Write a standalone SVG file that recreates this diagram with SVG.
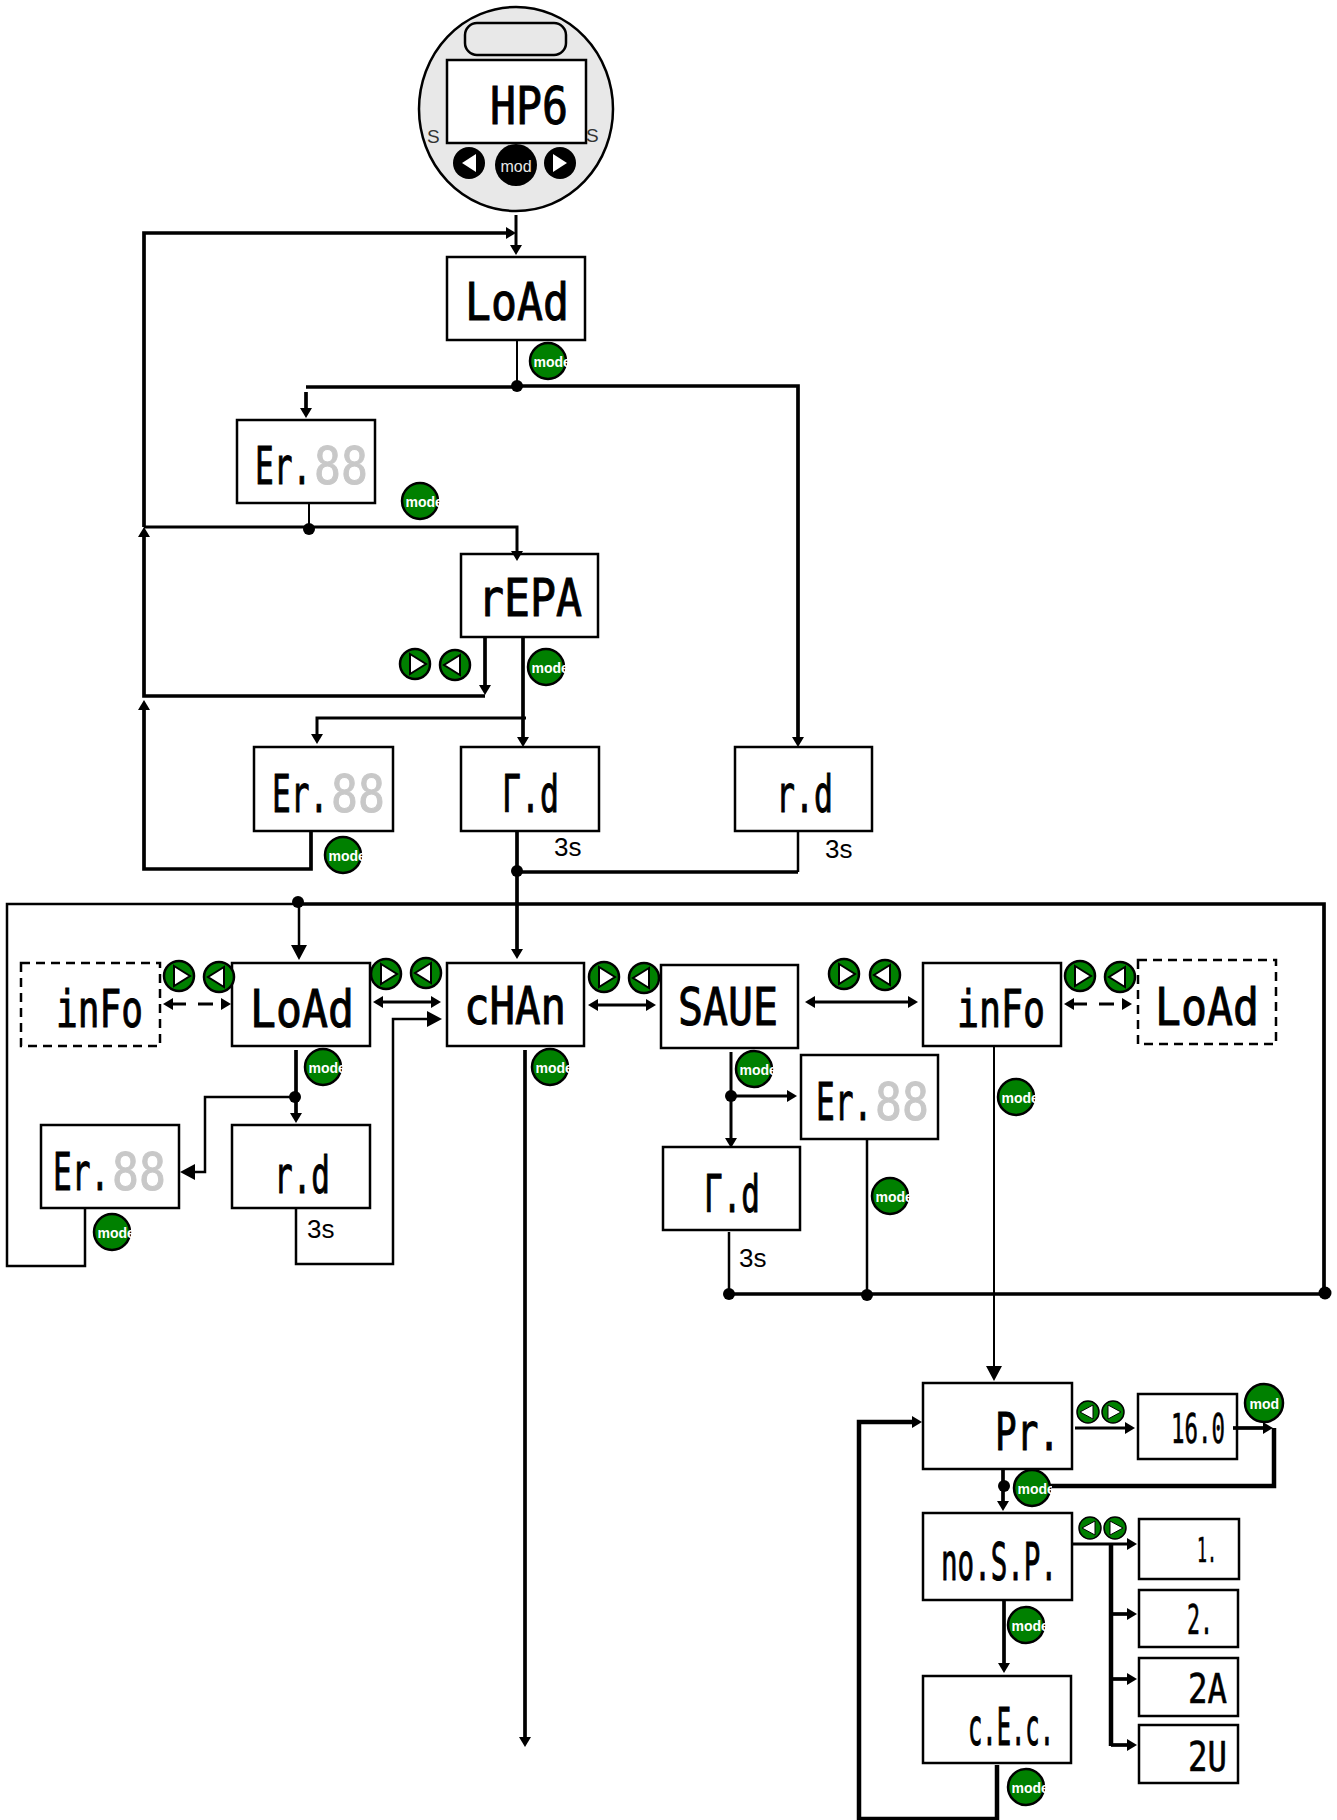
<svg xmlns="http://www.w3.org/2000/svg" width="1337" height="1820" viewBox="0 0 1337 1820">
<style>
.box{fill:#fff;stroke:#000;stroke-width:2.5}
.dash{fill:#fff;stroke:#000;stroke-width:2.5;stroke-dasharray:9 6}
.seg{font-family:"DejaVu Sans Mono","Liberation Mono",monospace;font-size:52px;fill:#000;stroke:#000;stroke-width:1}
.s40{font-size:40px;stroke-width:.6}
.s32{font-size:34px;stroke-width:.6}
.off{fill:#c8c8c8;stroke:#c8c8c8}
.lbl{font-family:"Liberation Sans",Arial,sans-serif;font-size:26px;fill:#000}
.badge circle{fill:#008000;stroke:#000;stroke-width:2.5}
.badge text{font-family:"Liberation Sans",Arial,sans-serif;font-size:14px;font-weight:bold;fill:#fff}
.btn{fill:#008000;stroke:#000;stroke-width:2.5}
.tri{fill:#fff;stroke:#000;stroke-width:2}
.tri2{fill:#fff;stroke:#000;stroke-width:1}
.c{fill:none;stroke:#000;stroke-linejoin:miter}
.w2{stroke-width:2}.w25{stroke-width:2.5}.w3{stroke-width:3}.w35{stroke-width:3.7}.w4{stroke-width:4.5}
.d{stroke-dasharray:15 12}
.j{fill:#000}
.a{marker-end:url(#s)}
.al{marker-end:url(#l)}
.aa{marker-start:url(#s);marker-end:url(#s)}
</style>
<defs>
<marker id="s" markerUnits="userSpaceOnUse" markerWidth="10" markerHeight="12" refX="2" refY="6" orient="auto-start-reverse"><path d="M0,0L10,6L0,12Z"/></marker>
<marker id="l" markerUnits="userSpaceOnUse" markerWidth="15" markerHeight="16" refX="3" refY="8" orient="auto-start-reverse"><path d="M0,0L15,8L0,16Z"/></marker>
<clipPath id="cl"><rect x="-20" y="-21" width="40" height="42"/></clipPath>
<g id="br"><circle class="btn" r="15"/><polygon class="tri" points="-5,-10 11,0 -5,10"/></g>
<g id="bl"><circle class="btn" r="15"/><polygon class="tri" points="5,-10 -11,0 5,10"/></g>
<g id="sr"><circle class="btn" style="stroke-width:1.5" r="11"/><polygon class="tri2" points="-5,-7 8,0 -5,7"/></g>
<g id="sl"><circle class="btn" style="stroke-width:1.5" r="11"/><polygon class="tri2" points="5,-7 -8,0 5,7"/></g>
</defs>

<g id="device">
<ellipse cx="516" cy="109" rx="97" ry="102" fill="#e8e8e8" stroke="#000" stroke-width="2.5"/>
<rect x="465" y="23" width="101" height="32" rx="12" fill="#e8e8e8" stroke="#000" stroke-width="2.5"/>
<text x="427" y="143" font-family="Liberation Sans,sans-serif" font-size="19" fill="#333">S</text>
<text x="586" y="142" font-family="Liberation Sans,sans-serif" font-size="19" fill="#333">S</text>
<rect x="447" y="60" width="139" height="83" fill="#fff" stroke="#000" stroke-width="2.5"/>
<text class="seg" x="490" y="124" textLength="78" lengthAdjust="spacingAndGlyphs">HP6</text>
<circle cx="469" cy="163" r="16"/><polygon points="476,154 476,172 462,163" fill="#fff"/>
<circle cx="516" cy="165" r="21"/><text x="516" y="172" text-anchor="middle" font-family="Liberation Sans,sans-serif" font-size="16" fill="#e8e8e8">mod</text>
<circle cx="560" cy="163" r="16"/><polygon points="553,154 553,172 567,163" fill="#fff"/>
</g>

<g id="n-load1"><rect class="box" x="447" y="257" width="138" height="83"/><text class="seg" x="465" y="320" textLength="104" lengthAdjust="spacingAndGlyphs">LoAd</text></g>
<g id="n-er1"><rect class="box" x="237" y="420" width="138" height="83"/><text class="seg" transform="translate(255,484) scale(.6,1)">Er.</text><text class="seg off" transform="translate(314,484) scale(.86,1)">88</text></g>
<g id="n-repa"><rect class="box" x="461" y="554" width="137" height="83"/><text class="seg" x="478" y="616" textLength="104" lengthAdjust="spacingAndGlyphs">rEPA</text></g>
<g id="n-er2"><rect class="box" x="254" y="747" width="139" height="84"/><text class="seg" transform="translate(272,812) scale(.6,1)">Er.</text><text class="seg off" transform="translate(331,812) scale(.86,1)">88</text></g>
<g id="n-rd1"><rect class="box" x="461" y="747" width="138" height="84"/><text class="seg" x="502" y="812" textLength="57" lengthAdjust="spacingAndGlyphs">Γ.d</text></g>
<g id="n-rd2"><rect class="box" x="735" y="747" width="137" height="84"/><text class="seg" x="776" y="812" textLength="57" lengthAdjust="spacingAndGlyphs">r.d</text></g>
<g id="n-info1"><rect class="dash" x="21" y="963" width="139" height="83"/><text class="seg" x="56" y="1027" textLength="87" lengthAdjust="spacingAndGlyphs">inFo</text></g>
<g id="n-load2"><rect class="box" x="232" y="963" width="138" height="83"/><text class="seg" x="250" y="1027" textLength="104" lengthAdjust="spacingAndGlyphs">LoAd</text></g>
<g id="n-chan"><rect class="box" x="447" y="963" width="137" height="83"/><text class="seg" x="464" y="1024" textLength="102" lengthAdjust="spacingAndGlyphs">cHAn</text></g>
<g id="n-save"><rect class="box" x="661" y="965" width="137" height="83"/><text class="seg" x="678" y="1025" textLength="100" lengthAdjust="spacingAndGlyphs">SAUE</text></g>
<g id="n-info2"><rect class="box" x="923" y="963" width="138" height="83"/><text class="seg" x="957" y="1027" textLength="88" lengthAdjust="spacingAndGlyphs">inFo</text></g>
<g id="n-load3"><rect class="dash" x="1138" y="960" width="138" height="84"/><text class="seg" x="1155" y="1025" textLength="104" lengthAdjust="spacingAndGlyphs">LoAd</text></g>
<g id="n-er3"><rect class="box" x="41" y="1125" width="138" height="83"/><text class="seg" transform="translate(53,1190) scale(.6,1)">Er.</text><text class="seg off" transform="translate(112,1190) scale(.86,1)">88</text></g>
<g id="n-rd3"><rect class="box" x="232" y="1125" width="138" height="83"/><text class="seg" x="274" y="1193" textLength="56" lengthAdjust="spacingAndGlyphs">r.d</text></g>
<g id="n-er4"><rect class="box" x="801" y="1055" width="137" height="84"/><text class="seg" transform="translate(816,1120) scale(.6,1)">Er.</text><text class="seg off" transform="translate(875,1120) scale(.86,1)">88</text></g>
<g id="n-rd4"><rect class="box" x="663" y="1147" width="137" height="83"/><text class="seg" x="704" y="1212" textLength="56" lengthAdjust="spacingAndGlyphs">Γ.d</text></g>
<g id="n-pr"><rect class="box" x="923" y="1383" width="149" height="86"/><text class="seg" x="995" y="1450" textLength="65" lengthAdjust="spacingAndGlyphs">Pr.</text></g>
<g id="n-160"><rect class="box" x="1138" y="1394" width="99" height="65"/><text class="seg s40" transform="translate(1171,1443) scale(.56,1)">16.0</text></g>
<g id="n-nosp"><rect class="box" x="923" y="1513" width="149" height="87"/><text class="seg" x="941" y="1580" textLength="116" lengthAdjust="spacingAndGlyphs">no.S.P.</text></g>
<g id="n-cec"><rect class="box" x="923" y="1676" width="148" height="87"/><text class="seg" x="968" y="1745" textLength="86" lengthAdjust="spacingAndGlyphs">c.E.c.</text></g>
<g id="n-1"><rect class="box" x="1139" y="1519" width="100" height="60"/><text class="seg s32" x="1197" y="1562" textLength="20" lengthAdjust="spacingAndGlyphs">1.</text></g>
<g id="n-2"><rect class="box" x="1139" y="1590" width="99" height="57"/><text class="seg s40" x="1187" y="1634" textLength="26" lengthAdjust="spacingAndGlyphs">2.</text></g>
<g id="n-2a"><rect class="box" x="1139" y="1658" width="99" height="58"/><text class="seg s40" x="1188" y="1703" textLength="39" lengthAdjust="spacingAndGlyphs">2A</text></g>
<g id="n-2u"><rect class="box" x="1139" y="1725" width="99" height="58"/><text class="seg s40" x="1188" y="1771" textLength="39" lengthAdjust="spacingAndGlyphs">2U</text></g>

<g id="connectors">
<path class="c w3 a" d="M516,215V247"/>
<path class="c w35 a" d="M144,527V233H508"/>
<path class="c w2" d="M517,340V386"/>
<path class="c w35" d="M306,387H517"/>
<path class="c w35 a" d="M306,392V410"/>
<path class="c w35 a" d="M517,386H798V739"/>
<path class="c w2" d="M309,503V529"/>
<path class="c w3 a" d="M144,527H517V553"/>
<path class="c w35 a" d="M485,637V687"/>
<path class="c w35 a" d="M485,696H144V535"/>
<path class="c w35 a" d="M311,831V869H144V708"/>
<path class="c w35 a" d="M523,637V739"/>
<path class="c w3 a" d="M526,718H317V736"/>
<path class="c w35 a" d="M517,831V951"/>
<path class="c w35" d="M517,872H798"/>
<path class="c w25" d="M798,872V831"/>
<path class="c w25" d="M298,904H7V1266H85V1208"/>
<path class="c w35" d="M298,904H1324V1294H729"/>
<path class="c w25 al" d="M299,904V948"/>
<path class="c w3 d aa" d="M171,1004H223"/>
<path class="c w3 aa" d="M381,1002H433"/>
<path class="c w25 al" d="M296,1208V1264H393V1019H430"/>
<path class="c w35 a" d="M296,1050V1115"/>
<path class="c w25 al" d="M296,1097H205V1172H192"/>
<path class="c w3 aa" d="M596,1005H648"/>
<path class="c w3 aa" d="M813,1002H910"/>
<path class="c w3 d aa" d="M1072,1004H1124"/>
<path class="c w35 a" d="M525,1050V1739"/>
<path class="c w3 a" d="M731,1052V1140"/>
<path class="c w3 a" d="M731,1096H789"/>
<path class="c w25" d="M729,1232V1294"/>
<path class="c w25" d="M867,1139V1294"/>
<path class="c w2 al" d="M994,1046V1369"/>
<path class="c w4 a" d="M997,1765V1819H859V1422H914"/>
<path class="c w3 a" d="M1075,1428H1127"/>
<path class="c w35 a" d="M1233,1428H1265"/>
<path class="c w4" d="M1274,1428V1486H1050"/>
<path class="c w35 a" d="M1003,1469V1503"/>
<path class="c w3 a" d="M1072,1544H1129"/>
<path class="c w4" d="M1111,1544V1746"/>
<path class="c w35 a" d="M1111,1614H1129"/>
<path class="c w35 a" d="M1111,1679H1129"/>
<path class="c w35 a" d="M1111,1745H1129"/>
<path class="c w35 a" d="M1004,1600V1665"/>
<circle class="j" cx="517" cy="386" r="6"/>
<circle class="j" cx="309" cy="529" r="6"/>
<circle class="j" cx="517" cy="871" r="6"/>
<circle class="j" cx="298" cy="902" r="6"/>
<circle class="j" cx="295" cy="1097" r="6"/>
<circle class="j" cx="731" cy="1096" r="6"/>
<circle class="j" cx="729" cy="1294" r="6"/>
<circle class="j" cx="867" cy="1295" r="6"/>
<circle class="j" cx="1325" cy="1293" r="6.5"/>
<circle class="j" cx="1004" cy="1486" r="6"/>
</g>

<g id="labels">
<text class="lbl" x="554" y="856">3s</text>
<text class="lbl" x="825" y="858">3s</text>
<text class="lbl" x="307" y="1238">3s</text>
<text class="lbl" x="739" y="1267">3s</text>
</g>

<g id="buttons">
<use href="#br" x="179" y="976"/><use href="#bl" x="219" y="977"/>
<use href="#br" x="386" y="974"/><use href="#bl" x="426" y="973"/>
<use href="#br" x="604" y="977"/><use href="#bl" x="644" y="978"/>
<use href="#br" x="844" y="974"/><use href="#bl" x="885" y="975"/>
<use href="#br" x="1080" y="976"/><use href="#bl" x="1120" y="977"/>
<use href="#br" x="415" y="664"/><use href="#bl" x="455" y="665"/>
<use href="#sl" x="1088" y="1412"/><use href="#sr" x="1113" y="1412"/>
<use href="#sl" x="1090" y="1528"/><use href="#sr" x="1115" y="1528"/>
</g>

<g id="badges">
<g class="badge" transform="translate(548,361)"><circle r="18"/><text x="-14.5" y="6" clip-path="url(#cl)">mode</text></g>
<g class="badge" transform="translate(420,501)"><circle r="18"/><text x="-14.5" y="6" clip-path="url(#cl)">mode</text></g>
<g class="badge" transform="translate(546,667)"><circle r="18"/><text x="-14.5" y="6" clip-path="url(#cl)">mode</text></g>
<g class="badge" transform="translate(343,855)"><circle r="18"/><text x="-14.5" y="6" clip-path="url(#cl)">mode</text></g>
<g class="badge" transform="translate(323,1067)"><circle r="18"/><text x="-14.5" y="6" clip-path="url(#cl)">mode</text></g>
<g class="badge" transform="translate(550,1067)"><circle r="18"/><text x="-14.5" y="6" clip-path="url(#cl)">mode</text></g>
<g class="badge" transform="translate(754,1069)"><circle r="18"/><text x="-14.5" y="6" clip-path="url(#cl)">mode</text></g>
<g class="badge" transform="translate(1016,1097)"><circle r="18"/><text x="-14.5" y="6" clip-path="url(#cl)">mode</text></g>
<g class="badge" transform="translate(112,1232)"><circle r="18"/><text x="-14.5" y="6" clip-path="url(#cl)">mode</text></g>
<g class="badge" transform="translate(890,1196)"><circle r="18"/><text x="-14.5" y="6" clip-path="url(#cl)">mode</text></g>
<g class="badge" transform="translate(1032,1488)"><circle r="18"/><text x="-14.5" y="6" clip-path="url(#cl)">mode</text></g>
<g class="badge" transform="translate(1026,1625)"><circle r="18"/><text x="-14.5" y="6" clip-path="url(#cl)">mode</text></g>
<g class="badge" transform="translate(1026,1787)"><circle r="18"/><text x="-14.5" y="6" clip-path="url(#cl)">mode</text></g>
<g class="badge" transform="translate(1264,1403)"><circle r="19"/><text x="-14.5" y="5.5">mod</text></g>
</g>
</svg>
